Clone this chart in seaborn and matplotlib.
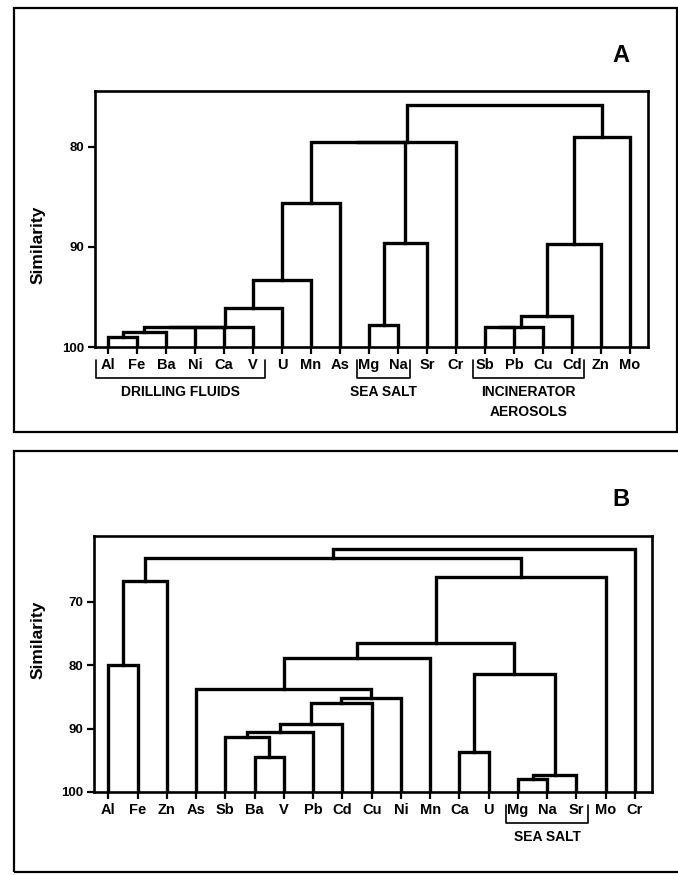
import numpy as np
import pandas as pd
import matplotlib
matplotlib.use("Agg")
import matplotlib.pyplot as plt
from matplotlib.patches import Rectangle
import seaborn as sns

# ---------------- data ----------------
# Panel A: leaf order and agglomeration steps (node ids: leaves 0..18, merges 19..)
a_leaves = ['Al', 'Fe', 'Ba', 'Ni', 'Ca', 'V', 'U', 'Mn', 'As', 'Mg', 'Na', 'Sr',
            'Cr', 'Sb', 'Pb', 'Cu', 'Cd', 'Zn', 'Mo']
a_left = [0, 19, 20, 21, 22, 23, 24, 25, 9, 27, 26, 29, 13, 31, 32, 33, 34, 30]
a_right = [1, 2, 3, 4, 5, 6, 7, 8, 10, 11, 28, 12, 14, 15, 16, 17, 18, 35]
a_height = [99.0, 98.5, 98.0, 98.0, 98.0, 96.1, 93.3, 85.6, 97.8, 89.6, 79.5, 79.5,
            98.0, 98.0, 96.9, 89.7, 79.0, 75.8]
a_groups = ['DRILLING FLUIDS', 'SEA SALT', 'INCINERATOR\nAEROSOLS']
a_group_first = ['Al', 'Mg', 'Sb']
a_group_last = ['V', 'Na', 'Cd']
a_yticks = [80, 90, 100]

# Panel B
b_leaves = ['Al', 'Fe', 'Zn', 'As', 'Sb', 'Ba', 'V', 'Pb', 'Cd', 'Cu', 'Ni', 'Mn',
            'Ca', 'U', 'Mg', 'Na', 'Sr', 'Mo', 'Cr']
b_left = [0, 19, 5, 4, 22, 23, 24, 25, 3, 27, 12, 14, 30, 29, 28, 33, 20, 35]
b_right = [1, 2, 6, 21, 7, 8, 9, 10, 26, 11, 13, 15, 16, 31, 32, 17, 34, 18]
b_height = [80.0, 66.7, 94.5, 91.3, 90.5, 89.2, 85.9, 85.2, 83.8, 78.9, 93.7, 97.9,
            97.3, 81.4, 76.5, 66.0, 63.1, 61.7]
b_groups = ['SEA SALT']
b_group_first = ['Mg']
b_group_last = ['Sr']
b_yticks = [70, 80, 90, 100]


def build_segments(leaves, left, right, height):
    n = len(leaves)
    xs = list(range(n))
    hs = [100.0] * n
    rows = []
    for k, (l, r, h) in enumerate(zip(left, right, height)):
        pts = [(xs[l], hs[l]), (xs[l], h), (xs[r], h), (xs[r], hs[r])]
        for j, (px, py) in enumerate(pts):
            rows.append(dict(seg=k, order=j, x=px, y=py))
        xs.append((xs[l] + xs[r]) / 2.0)
        hs.append(h)
    return pd.DataFrame(rows)


# ---------------- style ----------------
sns.set_style("ticks")
plt.rcParams['font.family'] = ['Liberation Sans', 'DejaVu Sans']
plt.rcParams['font.weight'] = 'bold'
plt.rcParams['text.color'] = 'black'
plt.rcParams['axes.labelcolor'] = 'black'
plt.rcParams['xtick.color'] = 'black'
plt.rcParams['ytick.color'] = 'black'

W, H = 678, 875
fig = plt.figure(figsize=(W / 100, H / 100), dpi=100)


def add_ax(l, t, r, b):
    return fig.add_axes([l / W, 1 - b / H, (r - l) / W, (b - t) / H])


def draw_panel(ax, leaves, left, right, height, ylim, yticks, xlim,
               groups, gfirst, glast, ax_h_px):
    df = build_segments(leaves, left, right, height)
    sns.lineplot(data=df, x='x', y='y', units='seg', estimator=None, sort=False,
                 color='black', lw=2.4, ax=ax, legend=False,
                 solid_capstyle='projecting', solid_joinstyle='miter')
    ax.set_xlim(*xlim)
    ax.set_ylim(*ylim)
    ax.set_yticks(yticks)
    ax.set_yticklabels([str(t) for t in yticks], fontsize=9.5, fontweight='bold')
    ax.set_xticks(range(len(leaves)))
    ax.set_xticklabels(leaves, fontsize=10.5, fontweight='bold')
    ax.tick_params(axis='both', direction='out', length=5, width=1.6, pad=3,
                   color='black', labelcolor='black')
    ax.set_xlabel('')
    ax.set_ylabel('')
    for s in ax.spines.values():
        s.set_visible(True)
        s.set_linewidth(1.9)
        s.set_color('black')
    trans = ax.get_xaxis_transform()
    y_top = -13 / ax_h_px
    y_bot = -31 / ax_h_px
    for g, f, l in zip(groups, gfirst, glast):
        x0 = leaves.index(f) - 0.4
        x1 = leaves.index(l) + 0.4
        ax.plot([x0, x0, x1, x1], [y_top, y_bot, y_bot, y_top], color='black',
                lw=1.2, transform=trans, clip_on=False)
        ax.text((x0 + x1) / 2, -38 / ax_h_px, g, transform=trans, ha='center',
                va='top', fontsize=10, fontweight='bold', linespacing=1.5,
                color='black')


# Panel A
axA = add_ax(95, 91, 648, 347)
xa0 = (95 - 108) / 29.0
xa1 = (648 - 108) / 29.0
draw_panel(axA, a_leaves, a_left, a_right, a_height, (100, 74.4), a_yticks,
           (xa0, xa1), a_groups, a_group_first, a_group_last, 256)

# Panel B
axB = add_ax(94, 536, 652, 792)
sp = (635 - 108.3) / 18
xb0 = (94 - 108.3) / sp
xb1 = (652 - 108.3) / sp
draw_panel(axB, b_leaves, b_left, b_right, b_height, (100, 59.6), b_yticks,
           (xb0, xb1), b_groups, b_group_first, b_group_last, 256)

# Y labels
fig.text(38 / W, 1 - 245 / H, 'Similarity', rotation=90, ha='center', va='center',
         fontsize=12.5, fontweight='bold', color='black')
fig.text(38 / W, 1 - 640 / H, 'Similarity', rotation=90, ha='center', va='center',
         fontsize=12.5, fontweight='bold', color='black')

# Panel letters
fig.text(621 / W, 1 - 55 / H, 'A', ha='center', va='center', fontsize=17,
         fontweight='bold', color='black')
fig.text(621 / W, 1 - 500 / H, 'B', ha='center', va='center', fontsize=17,
         fontweight='bold', color='black')

# Outer frames
fig.add_artist(Rectangle((14 / W, 1 - 432 / H), (677 - 14) / W, (432 - 8) / H,
                         transform=fig.transFigure, fill=False, lw=1.6,
                         edgecolor='black'))
fig.add_artist(Rectangle((14 / W, 1 - 872 / H), (690 - 14) / W, (872 - 451) / H,
                         transform=fig.transFigure, fill=False, lw=1.6,
                         edgecolor='black', clip_on=False))

fig.savefig('out.png', dpi=100, facecolor='white')
